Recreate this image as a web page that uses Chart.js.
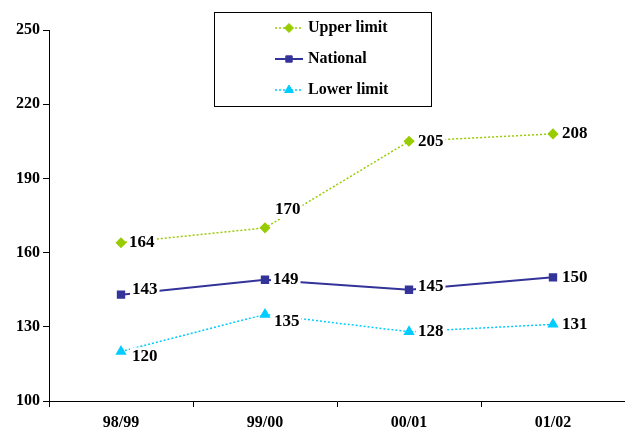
<!DOCTYPE html>
<html>
<head>
<meta charset="utf-8">
<script src="https://cdn.jsdelivr.net/npm/chart.js@4.4.0/dist/chart.umd.min.js"></script>
<style>
  html, body { margin: 0; padding: 0; background: #fff; }
  #wrap { width: 625px; height: 434px; }
</style>
</head>
<body>
<div id="wrap"><canvas id="myChart" width="625" height="434"></canvas></div>
<script>
// data
const seasons = ['98/99', '99/00', '00/01', '01/02'];
const upperLimit = [164, 170, 205, 208];
const national = [143, 149, 145, 150];
const lowerLimit = [120, 135, 128, 131];
const yTicks = [100, 130, 160, 190, 220, 250];

const FONT = '"Liberation Serif", "DejaVu Serif", serif';

// where each value label sits relative to its point (dx, dy)
const labelShift = [
  [[8, 0], [10, -18], [9, 0], [9, 0]],
  [[11, -5], [8, 0], [9, -3], [9, 0]],
  [[11, 5], [9, 7], [9, 0], [9, 0]]
];

const valueLabels = {
  id: 'valueLabels',
  afterDatasetsDraw(chart) {
    const ctx = chart.ctx;
    ctx.save();
    ctx.font = 'bold 17px ' + FONT;
    ctx.textBaseline = 'middle';
    ctx.textAlign = 'left';
    chart.data.datasets.forEach((ds, i) => {
      const meta = chart.getDatasetMeta(i);
      meta.data.forEach((pt, j) => {
        const txt = String(ds.data[j]);
        const x = pt.x + labelShift[i][j][0];
        const y = pt.y + labelShift[i][j][1];
        const w = ctx.measureText(txt).width;
        ctx.fillStyle = '#fff';
        ctx.fillRect(x - 2, y - 9, w + 4, 18);
        ctx.fillStyle = '#000';
        ctx.fillText(txt, x, y);
      });
    });
    ctx.restore();
  }
};

// boxed legend like the original, drawn from the dataset styles
const boxLegend = {
  id: 'boxLegend',
  afterDraw(chart) {
    const ctx = chart.ctx;
    const bx = 214, by = 12, bw = 217, bh = 94;
    ctx.save();
    ctx.fillStyle = '#fff';
    ctx.fillRect(bx, by, bw, bh);
    ctx.strokeStyle = '#000';
    ctx.lineWidth = 1;
    ctx.strokeRect(bx + 0.5, by + 0.5, bw, bh);
    ctx.font = 'bold 16px ' + FONT;
    ctx.textBaseline = 'middle';
    chart.data.datasets.forEach((ds, i) => {
      const y = 28 + i * 31;
      ctx.strokeStyle = ds.borderColor;
      ctx.lineWidth = ds.borderWidth;
      ctx.setLineDash(ds.borderDash || []);
      ctx.beginPath();
      ctx.moveTo(275, y);
      ctx.lineTo(303, y);
      ctx.stroke();
      ctx.setLineDash([]);
      ctx.fillStyle = ds.pointBackgroundColor;
      ctx.strokeStyle = ds.pointBorderColor;
      ctx.lineWidth = 1;
      Chart.helpers.drawPoint(ctx, {
        pointStyle: ds.pointStyle,
        radius: ds.pointRadius,
        rotation: 0,
        borderWidth: 1
      }, 289, y);
      ctx.fillStyle = '#000';
      ctx.fillText(ds.label, 308, y);
    });
    ctx.restore();
  }
};

const chart = new Chart(document.getElementById('myChart'), {
  type: 'line',
  data: {
    labels: seasons,
    datasets: [
      {
        label: 'Upper limit',
        data: upperLimit,
        borderColor: '#99CC00',
        backgroundColor: '#99CC00',
        pointBackgroundColor: '#99CC00',
        pointBorderColor: '#99CC00',
        borderWidth: 1.5,
        borderDash: [2, 2],
        pointStyle: 'rectRot',
        pointRadius: 4.5
      },
      {
        label: 'National',
        data: national,
        borderColor: '#333399',
        backgroundColor: '#333399',
        pointBackgroundColor: '#333399',
        pointBorderColor: '#333399',
        borderWidth: 2,
        pointStyle: 'rect',
        pointRadius: 4.5
      },
      {
        label: 'Lower limit',
        data: lowerLimit,
        borderColor: '#00CCFF',
        backgroundColor: '#00CCFF',
        pointBackgroundColor: '#00CCFF',
        pointBorderColor: '#00CCFF',
        borderWidth: 1.5,
        borderDash: [2, 2],
        pointStyle: 'triangle',
        pointRadius: 5
      }
    ]
  },
  options: {
    responsive: false,
    animation: false,
    layout: {
      autoPadding: false,
      padding: { top: 30, right: 0, left: 0, bottom: 0 }
    },
    plugins: {
      legend: { display: false },
      tooltip: { enabled: false }
    },
    scales: {
      x: {
        offset: true,
        grid: {
          offset: true,
          drawOnChartArea: false,
          drawTicks: true,
          tickLength: 6,
          color: '#000'
        },
        border: { color: '#000', width: 1 },
        ticks: {
          color: '#000',
          font: { family: FONT, size: 16, weight: 'bold' },
          padding: 6,
          maxRotation: 0
        },
        afterFit(scale) {
          scale.height = 33;
          scale.paddingLeft = 0;
          scale.paddingRight = 0;
        }
      },
      y: {
        min: 100,
        max: 250,
        afterBuildTicks(scale) {
          scale.ticks = yTicks.map(v => ({ value: v }));
        },
        grid: {
          drawOnChartArea: false,
          drawTicks: true,
          tickLength: 6,
          color: '#000'
        },
        border: { color: '#000', width: 1 },
        ticks: {
          color: '#000',
          font: { family: FONT, size: 16, weight: 'bold' },
          padding: 3
        },
        afterFit(scale) {
          scale.width = 49;
          scale.paddingTop = 0;
          scale.paddingBottom = 0;
        }
      }
    }
  },
  plugins: [valueLabels, boxLegend]
});
</script>
</body>
</html>
